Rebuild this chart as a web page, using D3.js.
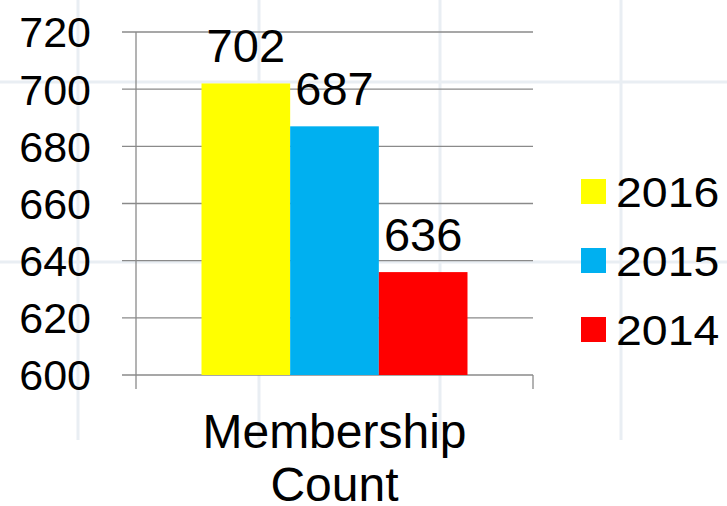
<!DOCTYPE html>
<html>
<head>
<meta charset="utf-8">
<script src="https://cdn.jsdelivr.net/npm/d3@7"></script>
<style>
  html, body { margin: 0; padding: 0; background: #ffffff; }
  svg { display: block; font-family: "Liberation Sans", Arial, sans-serif; }
</style>
</head>
<body>
<svg id="chart" width="727" height="506"></svg>
<script>
const categories = ["Membership Count"];
const categoryLines = [["Membership", "Count"]];
const seriesNames = ["2016", "2015", "2014"];
const seriesValues = [702, 687, 636];
const seriesColors = ["#FFFF00", "#00B0F0", "#FF0000"];
const yTicks = [600, 620, 640, 660, 680, 700, 720];

const svg = d3.select("#chart");

// faint decorative background grid
const bg = svg.append("g");
[78, 259, 440, 621].forEach(x => bg.append("line")
  .attr("x1", x).attr("x2", x).attr("y1", 0).attr("y2", 440)
  .attr("stroke", "#e9eef3").attr("stroke-width", 3));
[82, 262].forEach(y => bg.append("line")
  .attr("x1", 0).attr("x2", 727).attr("y1", y).attr("y2", y)
  .attr("stroke", "#e9eef3").attr("stroke-width", 3));

const y = d3.scaleLinear().domain([600, 720]).range([375, 32]);
const x0 = d3.scaleBand().domain(categories).range([136, 533])
  .paddingInner(0.33).paddingOuter(0.165);
const x1 = d3.scaleBand().domain(seriesNames).range([0, x0.bandwidth()]);

// gridlines
svg.append("g").selectAll("line").data(yTicks).join("line")
  .attr("x1", 122).attr("x2", 533)
  .attr("y1", d => y(d)).attr("y2", d => y(d))
  .attr("stroke", "#8a8a8a").attr("stroke-width", 1.3);

// y tick labels
svg.append("g").selectAll("text").data(yTicks).join("text")
  .attr("x", 91).attr("y", d => y(d)).attr("dy", "0.36em")
  .attr("text-anchor", "end").attr("font-size", 43).attr("fill", "#000")
  .text(d => d);

// bars
const g = svg.append("g").attr("transform", `translate(${x0(categories[0])},0)`);
g.selectAll("rect").data(seriesValues).join("rect")
  .attr("x", (d, i) => x1(seriesNames[i]))
  .attr("width", x1.bandwidth())
  .attr("y", d => y(d))
  .attr("height", d => y(600) - y(d))
  .attr("fill", (d, i) => seriesColors[i]);

// data labels
g.selectAll("text").data(seriesValues).join("text")
  .attr("x", (d, i) => x1(seriesNames[i]) + x1.bandwidth() / 2)
  .attr("y", d => y(d) - 21)
  .attr("text-anchor", "middle").attr("font-size", 47).attr("fill", "#000")
  .text(d => d);

// axes lines
svg.append("line").attr("x1", 136).attr("x2", 136).attr("y1", y(720)).attr("y2", 389)
  .attr("stroke", "#8a8a8a").attr("stroke-width", 1.3);
svg.append("line").attr("x1", 533).attr("x2", 533).attr("y1", y(600)).attr("y2", 389)
  .attr("stroke", "#8a8a8a").attr("stroke-width", 1.3);

// category label
const cl = svg.append("text").attr("text-anchor", "middle").attr("font-size", 48).attr("fill", "#000");
categoryLines[0].forEach((t, i) => cl.append("tspan")
  .attr("x", x0(categories[0]) + x0.bandwidth() / 2)
  .attr("y", 448 + i * 53).text(t));

// legend
const lg = svg.append("g");
seriesNames.forEach((s, i) => {
  const yy = 191.5 + i * 69;
  lg.append("rect").attr("x", 581).attr("y", yy - 12.5).attr("width", 25).attr("height", 25)
    .attr("fill", seriesColors[i]);
  lg.append("text").attr("transform", `translate(616,${yy}) scale(1.08,1)`)
    .attr("dy", "0.36em")
    .attr("font-size", 43).attr("fill", "#000").text(s);
});
</script>
</body>
</html>
